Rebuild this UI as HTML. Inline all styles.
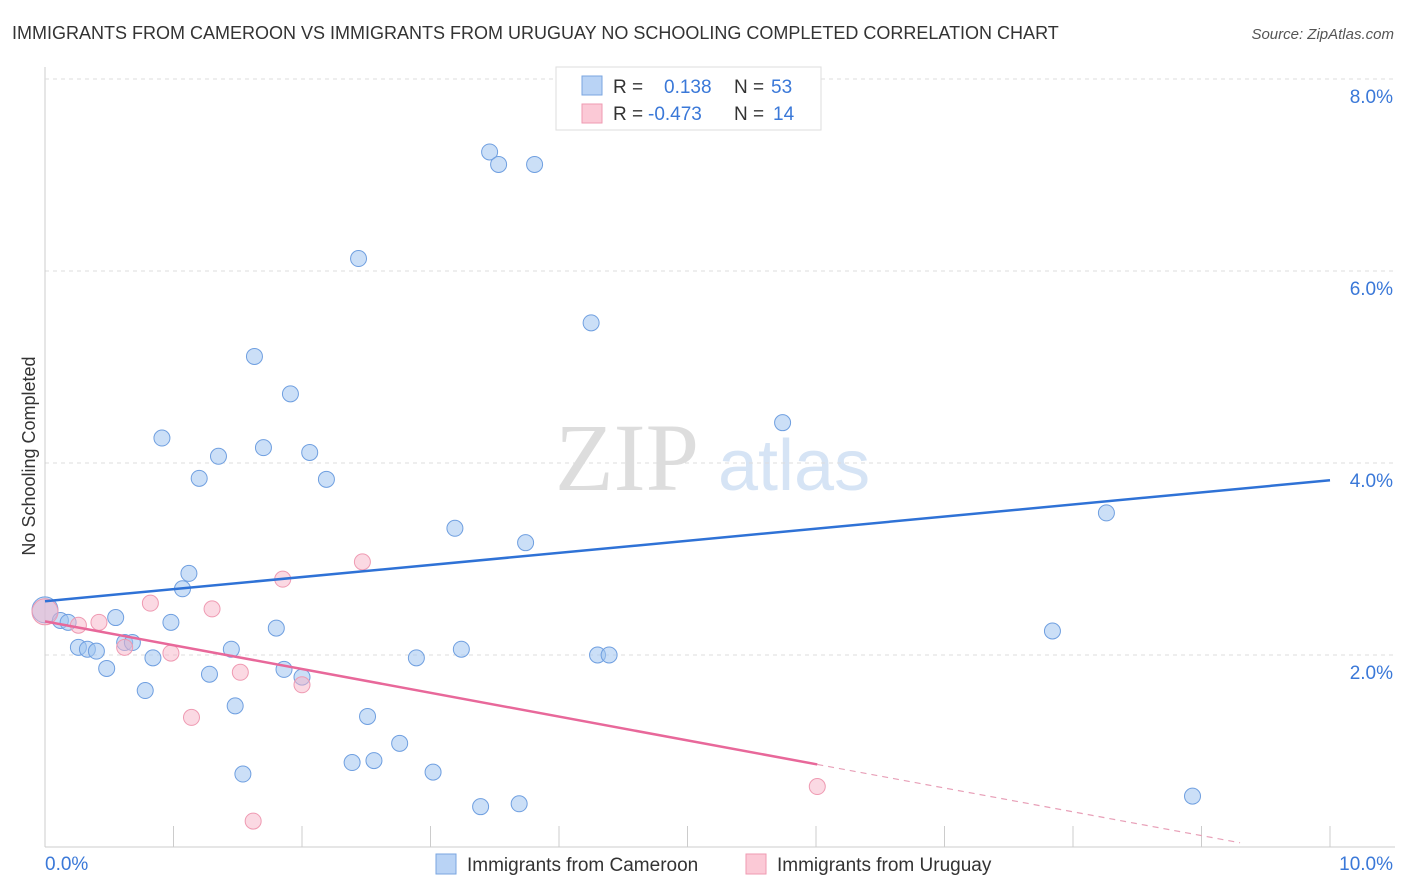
<!DOCTYPE html>
<html><head><meta charset="utf-8"><style>
body{margin:0;background:#fff;font-family:"Liberation Sans",sans-serif}
svg{display:block}
</style></head><body>
<svg id="c" width="1406" height="892" xmlns="http://www.w3.org/2000/svg">
<text x="12" y="39" font-size="18" fill="#333">IMMIGRANTS FROM CAMEROON VS IMMIGRANTS FROM URUGUAY NO SCHOOLING COMPLETED CORRELATION CHART</text>
<text x="1394" y="39" font-size="15" fill="#555" font-style="italic" text-anchor="end">Source: ZipAtlas.com</text>
<text x="35" y="456" font-size="18" fill="#333" text-anchor="middle" transform="rotate(-90 35 456)">No Schooling Completed</text>
<text x="555" y="490" font-size="96" fill="#ddd" font-family="Liberation Serif,serif">ZIP</text>
<text x="718" y="490" font-size="72" fill="#d6e4f5">atlas</text>
<g id="grid"></g><g id="pts"></g><g id="lines"></g>
<g>
<rect x="556" y="67" width="265" height="63" fill="#fff" stroke="#ddd"/>
<rect x="582" y="76" width="20" height="19" fill="#b9d3f5" stroke="#7aa6e0"/>
<text x="613" y="93" font-size="19" fill="#333">R =</text><text x="664" y="93" font-size="19" fill="#3a78d8">0.138</text>
<text x="734" y="93" font-size="19" fill="#333">N =</text><text x="771" y="93" font-size="19" fill="#3a78d8">53</text>
<rect x="582" y="104" width="20" height="19" fill="#fbc9d6" stroke="#ef9ab2"/>
<text x="613" y="120" font-size="19" fill="#333">R =</text><text x="648" y="120" font-size="19" fill="#3a78d8">-0.473</text>
<text x="734" y="120" font-size="19" fill="#333">N =</text><text x="773" y="120" font-size="19" fill="#3a78d8">14</text>
</g>
<g>
<rect x="436" y="854" width="20" height="20" fill="#b9d3f5" stroke="#7aa6e0"/>
<text x="467" y="871" font-size="19" fill="#333">Immigrants from Cameroon</text>
<rect x="746" y="854" width="20" height="20" fill="#fbc9d6" stroke="#ef9ab2"/>
<text x="777" y="871" font-size="19" fill="#333">Immigrants from Uruguay</text>
</g>
</svg>
<script>
const blueX=[0.00,0.12,0.18,0.26,0.33,0.40,0.48,0.55,0.62,0.68,0.78,0.84,0.91,0.98,1.07,1.12,1.20,1.28,1.35,1.45,1.48,1.54,1.63,1.70,1.80,1.86,1.91,2.00,2.06,2.19,2.39,2.44,2.51,2.56,2.76,2.89,3.02,3.19,3.24,3.39,3.46,3.53,3.69,3.74,3.81,4.25,4.30,4.39,4.66,5.74,7.84,8.26,8.93];
const blueY=[2.47,2.36,2.34,2.08,2.06,2.04,1.86,2.39,2.13,2.13,1.63,1.97,4.26,2.34,2.69,2.85,3.84,1.80,4.07,2.06,1.47,0.76,5.11,4.16,2.28,1.85,4.72,1.77,4.11,3.83,0.88,6.13,1.36,0.90,1.08,1.97,0.78,3.32,2.06,0.42,7.24,7.11,0.45,3.17,7.11,5.46,2.00,2.00,8.00,4.42,2.25,3.48,0.53];
const pinkX=[0.00,0.26,0.42,0.62,0.82,0.98,1.14,1.30,1.52,1.62,1.85,2.00,2.47,6.01];
const pinkY=[2.45,2.31,2.34,2.08,2.54,2.02,1.35,2.48,1.82,0.27,2.79,1.69,2.97,0.63];
const blueTrend=[2.56,3.82]; // y at x=0 and x=10
const pinkTrend=[2.35,0.86,6.01,9.30]; // y0, y at solid end, solid end x, dashed end x
const yTicks=[2,4,6,8];
const xTicks=[0,1,2,3,4,5,6,7,8,9,10];
const X=v=>45+v*128.5, Y=v=>847-v*96;
const NS="http://www.w3.org/2000/svg";
function mk(p,t,a){const e=document.createElementNS(NS,t);for(const k in a)e.setAttribute(k,a[k]);p.appendChild(e);return e;}
const g=document.getElementById('grid');
yTicks.forEach(t=>{const l=mk(g,'line',{x1:45,x2:1395,y1:Y(t),y2:Y(t),stroke:'#ddd','stroke-dasharray':'4,4'});

const tx=mk(g,'text',{x:1393,y:Y(t)+24,'font-size':19,fill:'#3a78d8','text-anchor':'end'});tx.textContent=t.toFixed(1)+'%';
});
const ax=mk(g,'line',{x1:45,x2:45,y1:67,y2:847,stroke:'#ccc'});
const bx=mk(g,'line',{x1:45,x2:1395,y1:847,y2:847,stroke:'#ccc'});
mk(g,'line',{x1:45,x2:1395,y1:Y(8),y2:Y(8),stroke:'#ddd','stroke-dasharray':'4,4'});
xTicks.forEach(t=>{const l=mk(g,'line',{x1:X(t),x2:X(t),y1:826,y2:847,stroke:'#ccc'});});
[[0,'0.0%','start',45],[10,'10.0%','end',1393]].forEach(d=>{const tx=mk(g,'text',{x:d[3],y:870,'font-size':19,fill:'#3a78d8','text-anchor':d[2]});tx.textContent=d[1];});
const P=document.getElementById('pts');
blueX.forEach((x,i)=>{const c=mk(P,'circle',{cx:X(x),cy:Y(blueY[i]),r:i==0?13:8,fill:'rgba(160,196,240,0.55)',stroke:'#6f9fe0','stroke-width':1});
});
pinkX.forEach((x,i)=>{const c=mk(P,'circle',{cx:X(x),cy:Y(pinkY[i]),r:i==0?13:8,fill:'rgba(247,180,200,0.5)',stroke:'#ef9ab2','stroke-width':1});
});
const L=document.getElementById('lines');
const b=mk(L,'line',{x1:X(0),y1:Y(blueTrend[0]),x2:X(10),y2:Y(blueTrend[1]),stroke:'#2f72d6','stroke-width':2.5});

const s=(pinkTrend[1]-pinkTrend[0])/pinkTrend[2];
const p1=mk(L,'line',{x1:X(0),y1:Y(pinkTrend[0]),x2:X(pinkTrend[2]),y2:Y(pinkTrend[1]),stroke:'#e8689a','stroke-width':2.5});

const p2=mk(L,'line',{x1:X(pinkTrend[2]),y1:Y(pinkTrend[1]),x2:X(pinkTrend[3]),y2:Y(pinkTrend[0]+s*pinkTrend[3]),stroke:'#e8a0b8','stroke-width':1.2,'stroke-dasharray':'6,5'});

</script>
</body></html>
